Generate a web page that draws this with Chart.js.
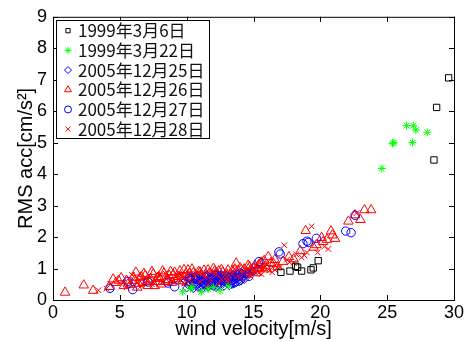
<!DOCTYPE html>
<html>
<head>
<meta charset="utf-8">
<script src="https://cdn.jsdelivr.net/npm/chart.js@4.4.1/dist/chart.umd.min.js"></script>
<style>
    body { margin: 0; background: #fff; }
    #wrap { width: 468px; height: 342px; }
</style>
</head>
<body>
<div id="wrap"><canvas id="windChart" width="468" height="342"></canvas></div>
<script>
// Legend labels, one per observation day
var seriesLabels = ["1999年3月6日", "1999年3月22日", "2005年12月25日", "2005年12月26日", "2005年12月27日", "2005年12月28日"];

// Axis ticks
var xTicks = [0, 5, 10, 15, 20, 25, 30];
var yTicks = [0, 1, 2, 3, 4, 5, 6, 7, 8, 9];

// 1999/3/6 (black squares)
var squareX = [17.05, 17.73, 18.15, 18.3, 18.6, 19.3, 19.47, 19.84, 28.5, 28.7, 29.6];
var squareY = [0.88, 0.92, 1.07, 1.04, 0.92, 0.96, 1.02, 1.25, 4.45, 6.12, 7.06];

// 1999/3/22 (green stars)
var starX = [9.7, 10.3, 10.4, 11.1, 11.6, 12.0, 12.5, 13.1, 24.6, 25.4, 25.5, 26.45, 26.95, 27.15, 26.9, 28.0];
var starY = [0.26, 0.36, 0.42, 0.26, 0.34, 0.40, 0.30, 0.44, 4.18, 4.98, 5.0, 5.54, 5.54, 5.40, 5.0, 5.33];

// 2005/12/25 (blue diamonds)
var diamondX = [9.9, 10.1, 10.2, 10.3, 10.4, 10.5, 10.6, 10.7, 10.8, 10.9, 11.0, 11.1, 11.2, 11.3, 11.4, 11.5, 11.6, 11.7, 11.8, 11.9,
    12.0, 12.1, 12.2, 12.3, 12.4, 12.5, 12.6, 12.7, 12.8, 12.9, 13.0, 13.1, 13.2, 13.3, 13.4, 13.5, 13.6, 13.7, 13.8, 13.9, 14.0, 14.2, 14.4,
    10.0, 10.3, 10.5, 10.8, 11.0, 11.2, 11.4, 11.6, 11.8, 12.0, 12.2, 12.4, 12.6, 12.8, 13.0, 13.2, 13.4, 13.6, 13.8, 14.1, 14.3, 14.6, 15.0,
    10.6, 11.1, 11.5, 11.9, 12.3, 12.7, 13.1, 13.5, 13.9,
    10.45, 10.65, 10.85, 11.05, 11.25, 11.45, 11.65, 11.85, 12.05, 12.25, 12.45, 12.65, 12.85, 13.05, 13.25, 13.45, 13.65, 13.85, 14.05, 14.25,
    10.55, 10.95, 11.35, 11.75, 12.15, 12.55, 12.95, 13.35, 13.75, 14.15];
var diamondY = [0.62, 0.48, 0.55, 0.70, 0.42, 0.58, 0.66, 0.45, 0.52, 0.61, 0.40, 0.57, 0.68, 0.49, 0.44, 0.63, 0.53, 0.71, 0.47, 0.59,
    0.43, 0.65, 0.55, 0.74, 0.50, 0.60, 0.46, 0.69, 0.56, 0.64, 0.52, 0.72, 0.58, 0.48, 0.67, 0.61, 0.76, 0.55, 0.70, 0.63, 0.73, 0.68, 0.80,
    0.38, 0.64, 0.36, 0.72, 0.60, 0.37, 0.75, 0.41, 0.66, 0.73, 0.39, 0.78, 0.62, 0.44, 0.79, 0.46, 0.58, 0.52, 0.82, 0.77, 0.65, 0.85, 0.92,
    0.75, 0.47, 0.80, 0.69, 0.45, 0.76, 0.63, 0.82, 0.57,
    0.55, 0.68, 0.40, 0.64, 0.50, 0.58, 0.68, 0.56, 0.50, 0.62, 0.70, 0.55, 0.72, 0.60, 0.70, 0.50, 0.66, 0.74, 0.60, 0.75,
    0.48, 0.78, 0.62, 0.52, 0.82, 0.66, 0.60, 0.75, 0.68, 0.86];

// 2005/12/26 (red triangles)
var triangleX = [0.9, 2.3, 3.0, 4.5, 4.9, 5.3, 5.6,
    5.8, 6.1, 6.3, 6.5, 6.7, 6.9, 7.1, 7.3, 7.5, 7.7, 7.9, 8.1, 8.3, 8.5, 8.7, 8.9, 9.1, 9.3, 9.5, 9.7, 9.9, 10.1, 10.3, 10.5, 10.7, 10.9,
    11.1, 11.3, 11.5, 11.7, 11.9, 12.1, 12.3, 12.5, 12.7, 12.9, 13.1, 13.3, 13.5, 13.7, 13.9, 14.1, 14.3, 14.5, 14.7, 14.9, 15.1, 15.3, 15.5, 15.7, 15.9,
    6.0, 6.4, 6.8, 7.2, 7.6, 8.0, 8.4, 8.8, 9.2, 9.6, 10.0, 10.4, 10.8, 11.2, 11.6, 12.0, 12.4, 12.8, 13.2, 13.6, 14.0, 14.4, 14.8, 15.2, 15.6, 16.0,
    4.2, 4.7, 5.1, 5.5, 6.2, 6.6, 7.0, 7.4, 7.8, 8.2, 8.6, 9.0, 9.4, 9.8, 10.2, 10.6, 11.0, 11.4, 11.8, 12.2,
    12.6, 13.0, 13.4, 13.8, 14.2, 14.6, 15.0, 15.4, 15.8, 16.3, 16.6,
    16.1, 16.5, 16.8, 17.2, 17.65, 18.0, 18.5, 18.9, 19.5, 19.7, 20.1, 20.2, 20.5, 20.8, 20.9, 21.1, 22.1, 22.6, 23.0, 23.3, 23.8];
var triangleY = [0.24, 0.47, 0.30, 0.66, 0.62, 0.45, 0.50,
    0.48, 0.62, 0.40, 0.70, 0.55, 0.78, 0.45, 0.66, 0.82, 0.58, 0.74, 0.50, 0.85, 0.63, 0.77, 0.55, 0.88, 0.68, 0.92, 0.60, 0.80, 0.95, 0.72, 0.86, 0.65, 0.90,
    0.78, 0.94, 0.70, 0.85, 0.76, 0.92, 0.80, 0.70, 0.88, 0.78, 0.95, 0.84, 0.74, 1.17, 0.90, 0.82, 0.98, 0.88, 1.05, 0.92, 1.10, 0.98, 1.15, 1.02, 1.08,
    0.72, 0.52, 0.84, 0.60, 0.45, 0.68, 0.58, 0.90, 0.62, 0.74, 0.56, 0.98, 0.75, 0.62, 0.95, 1.00, 0.92, 0.65, 0.72, 0.98, 1.02, 0.80, 0.96, 0.86, 1.20, 0.98,
    0.42, 0.55, 0.70, 0.62, 0.88, 0.74, 0.58, 0.90, 0.70, 0.92, 0.64, 0.80, 0.74, 0.96, 0.84, 0.70, 0.88, 0.80, 0.66, 0.86,
    0.96, 0.82, 0.92, 0.85, 0.92, 1.10, 1.02, 1.12, 1.25, 1.18, 1.28,
    1.37, 1.15, 1.05, 1.22, 1.37, 1.30, 1.56, 2.20, 1.67, 1.75, 1.98, 1.85, 1.92, 2.19, 2.06, 1.95, 2.50, 2.70, 2.55, 2.86, 2.86];

// 2005/12/27 (blue circles)
var circleX = [4.26, 5.6, 5.96, 7.1, 8.6, 9.1, 10.2, 11.0, 11.8, 12.6, 13.4, 14.0, 14.65, 15.4, 16.9, 17.0, 18.7, 19.0, 19.1, 19.7, 21.9, 22.3, 22.6];
var circleY = [0.37, 0.59, 0.33, 0.57, 0.54, 0.42, 0.70, 0.62, 0.55, 0.78, 0.70, 0.85, 0.75, 1.22, 1.53, 1.46, 1.79, 1.87, 1.83, 1.96, 2.19, 2.14, 2.69];

// 2005/12/28 (red crosses)
var crossX = [3.4, 4.0, 4.3, 5.0, 5.5, 5.9, 6.3, 6.6, 7.0, 7.4, 7.8, 8.2, 8.6, 9.0, 9.4, 9.8, 10.2, 10.6, 11.0, 11.4,
    11.8, 12.2, 12.6, 13.0, 13.4, 13.8, 14.2, 14.6, 15.0, 15.4, 15.8, 16.2, 16.6, 17.0, 17.3, 17.7, 18.2, 18.6, 19.0, 19.35,
    19.8, 20.3, 20.6, 22.7, 11.6, 12.4, 13.2, 14.0, 14.8, 15.6, 16.4, 10.8, 9.6, 8.4, 7.2, 12.0, 13.6, 15.2, 16.8,
    6.0, 6.9, 7.6, 8.0, 8.8, 9.2, 10.0, 10.4, 11.2, 12.8, 13.0, 14.4, 14.8, 15.0, 15.6, 16.0, 16.6, 17.5, 18.0, 18.8];
var crossY = [0.31, 0.36, 0.50, 0.55, 0.40, 0.80, 0.55, 0.45, 0.62, 0.50, 0.68, 0.55, 0.72, 0.58, 0.66, 0.52, 0.62, 0.75, 0.58, 0.70,
    0.64, 0.78, 0.66, 0.72, 0.82, 0.76, 0.88, 0.80, 0.95, 0.86, 1.02, 0.94, 1.10, 1.05, 1.74, 1.20, 1.45, 1.35, 1.51, 2.34,
    1.51, 1.70, 1.62, 2.76, 0.48, 0.52, 0.60, 0.70, 0.74, 0.82, 0.88, 0.86, 0.80, 0.85, 0.78, 0.92, 1.00, 1.08, 1.02,
    0.65, 0.72, 0.52, 0.80, 0.64, 0.74, 0.80, 0.55, 0.82, 0.85, 0.62, 0.95, 1.05, 0.85, 0.98, 1.12, 0.96, 1.28, 1.18, 1.42];

function toPoints(xs, ys) {
    var pts = [];
    var n = Math.min(xs.length, ys.length);
    for (var i = 0; i < n; i++) {
        pts.push({ x: xs[i], y: ys[i] });
    }
    return pts;
}

function makeSet(label, xs, ys, color, style, radius, legendRadius, order) {
    return {
        label: label,
        data: toPoints(xs, ys),
        showLine: false,
        pointStyle: style,
        pointRadius: radius,
        pointBorderWidth: 1,
        pointBorderColor: color,
        pointBackgroundColor: "rgba(0,0,0,0)",
        borderColor: color,
        backgroundColor: "rgba(0,0,0,0)",
        legendRadius: legendRadius,
        order: order
    };
}

var tickFont = { family: "'Liberation Sans', Arial, sans-serif", size: 18 };
var titleFont = { family: "'Liberation Sans', Arial, sans-serif", size: 20 };

// Draw the box, inward tick marks on all four sides and the legend inside the plot
var frameAndLegend = {
    id: "frameAndLegend",
    afterDatasetsDraw: function (chart) {
        var ctx = chart.ctx;
        var area = chart.chartArea;
        var xs = chart.scales.x;
        var ys = chart.scales.y;
        var tickLen = 5;

        ctx.save();
        ctx.strokeStyle = "#000";
        ctx.lineWidth = 1;
        ctx.strokeRect(area.left + 0.5, area.top + 0.5, area.right - area.left, area.bottom - area.top);

        ctx.beginPath();
        xTicks.forEach(function (v) {
            var px = Math.round(xs.getPixelForValue(v)) + 0.5;
            ctx.moveTo(px, area.bottom);
            ctx.lineTo(px, area.bottom - tickLen);
            ctx.moveTo(px, area.top);
            ctx.lineTo(px, area.top + tickLen);
        });
        yTicks.forEach(function (v) {
            var py = Math.round(ys.getPixelForValue(v)) + 0.5;
            ctx.moveTo(area.left, py);
            ctx.lineTo(area.left + tickLen, py);
            ctx.moveTo(area.right, py);
            ctx.lineTo(area.right - tickLen, py);
        });
        ctx.stroke();

        // legend
        var boxX = area.left + 3;
        var boxY = area.top + 3;
        var rowH = 19.7;
        var markerX = boxX + 12;
        var textX = boxX + 22;
        ctx.font = "17px 'Noto Sans CJK JP', sans-serif";
        var maxW = 0;
        chart.data.datasets.forEach(function (ds) {
            maxW = Math.max(maxW, ctx.measureText(ds.label).width);
        });
        var boxW = textX - boxX + maxW + 5;
        var boxH = rowH * chart.data.datasets.length;
        ctx.fillStyle = "#fff";
        ctx.fillRect(boxX, boxY, boxW, boxH);
        ctx.strokeRect(Math.round(boxX) + 0.5, Math.round(boxY) + 0.5, Math.round(boxW), Math.round(boxH));

        chart.data.datasets.forEach(function (ds, i) {
            var cy = boxY + rowH * (i + 0.5) + 1;
            ctx.strokeStyle = ds.borderColor;
            ctx.fillStyle = "rgba(0,0,0,0)";
            ctx.lineWidth = 1;
            Chart.helpers.drawPoint(ctx, {
                pointStyle: ds.pointStyle,
                radius: ds.legendRadius,
                borderWidth: 1,
                rotation: 0
            }, markerX, cy);
            ctx.fillStyle = "#111";
            ctx.textBaseline = "middle";
            ctx.textAlign = "left";
            ctx.fillText(ds.label, textX, cy);
        });
        ctx.restore();
    }
};

var ctx = document.getElementById("windChart").getContext("2d");
var windChart = new Chart(ctx, {
    type: "scatter",
    data: {
        datasets: [
            makeSet(seriesLabels[0], squareX, squareY, "#000000", "rect", 4.5, 3, 0),
            makeSet(seriesLabels[1], starX, starY, "#00ff00", "star", 4, 3.5, 1),
            makeSet(seriesLabels[2], diamondX, diamondY, "#0000ff", "rectRot", 4, 3.5, 3),
            makeSet(seriesLabels[3], triangleX, triangleY, "#ff0000", "triangle", 5.5, 4, 5),
            makeSet(seriesLabels[4], circleX, circleY, "#0000ff", "circle", 4.2, 3.5, 4),
            makeSet(seriesLabels[5], crossX, crossY, "#ff0000", "crossRot", 4, 3.5, 2)
        ]
    },
    options: {
        responsive: false,
        animation: false,
        events: [],
        layout: { padding: { top: 12, right: 14, left: 0, bottom: 0 }, autoPadding: false },
        plugins: {
            legend: { display: false },
            tooltip: { enabled: false }
        },
        scales: {
            x: {
                type: "linear",
                min: 0,
                max: 30,
                afterBuildTicks: function (scale) {
                    scale.ticks = xTicks.map(function (v) { return { value: v }; });
                },
                ticks: { color: "#000", font: tickFont, padding: 2, maxRotation: 0, autoSkip: false },
                grid: { display: false, drawTicks: false },
                border: { display: false },
                title: { display: true, text: "wind velocity[m/s]", color: "#000", font: titleFont, padding: { top: 0, bottom: 1 } },
                afterFit: function (scale) { scale.height = 42; }
            },
            y: {
                type: "linear",
                min: 0,
                max: 9,
                afterBuildTicks: function (scale) {
                    scale.ticks = yTicks.map(function (v) { return { value: v }; });
                },
                ticks: { color: "#000", font: tickFont, padding: 6, autoSkip: false },
                grid: { display: false, drawTicks: false },
                border: { display: false },
                title: { display: true, text: "RMS acc[cm/s²]", color: "#000", font: titleFont, padding: { top: 14, bottom: 0 } },
                afterFit: function (scale) { scale.width = 53; }
            }
        }
    },
    plugins: [frameAndLegend]
});
</script>
</body>
</html>
